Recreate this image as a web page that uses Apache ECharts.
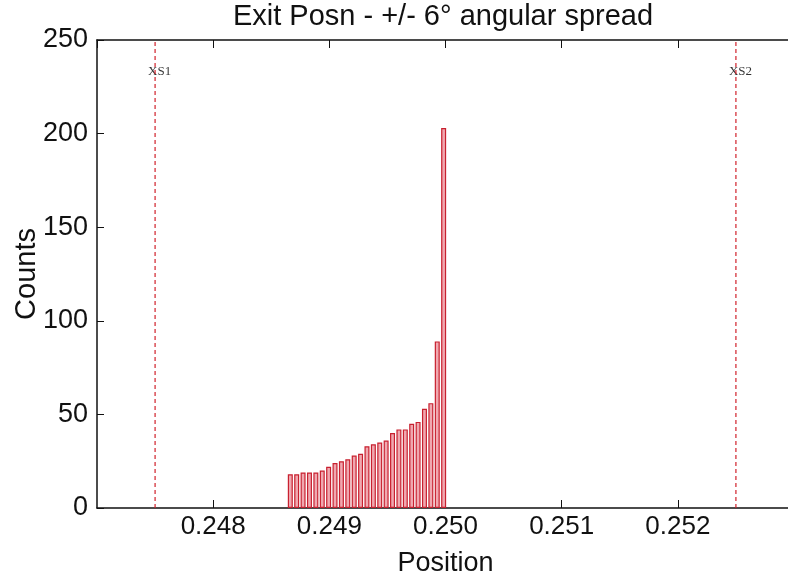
<!DOCTYPE html>
<html>
<head>
<meta charset="utf-8">
<script src="https://cdn.jsdelivr.net/npm/echarts@6/dist/echarts.min.js"></script>
<style>
  html, body { margin: 0; padding: 0; background: #fff; }
  #chartExitPosn { width: 788px; height: 578px; }
</style>
</head>
<body>
<div id="chartExitPosn"></div>
<script>
  // bin centres (position) and counts
  var binCentres = [0.248664, 0.248719, 0.248774, 0.248829, 0.248884, 0.248939, 0.248994, 0.249049,
                    0.249104, 0.249159, 0.249214, 0.249269, 0.249324, 0.249379, 0.249434, 0.249489,
                    0.249544, 0.249599, 0.249654, 0.249709, 0.249764, 0.249819, 0.249874, 0.249929, 0.249984];
  var binCounts = [18, 18, 19, 19, 19, 20, 22, 24, 25, 26, 28, 29, 33, 34, 35, 36,
                   40, 42, 42, 45, 46, 53, 56, 89, 203];
  // exit slit markers
  var xsNames = ['XS1', 'XS2'];
  var xsPositions = [0.2475, 0.2525];
  var xMin = 0.247, xMax = 0.253, xStep = 0.001;
  var yMin = 0, yMax = 250, yStep = 50;

  var fontMain = 'Liberation Sans, Arial, sans-serif';

  var histData = binCentres.map(function (x, i) { return [x, binCounts[i]]; });
  var xsLabels = xsPositions.map(function (x, i) { return { name: xsNames[i], value: [x, 233] }; });

  var series = [
    {
      name: 'Counts',
      type: 'bar',
      xAxisIndex: 0,
      barWidth: 5,
      data: histData,
      itemStyle: { color: '#f0a8b0', borderColor: '#c8202f', borderWidth: 1.2 }
    },
    {
      name: 'XS',
      type: 'scatter',
      xAxisIndex: 0,
      symbolSize: 0,
      data: xsLabels,
      label: {
        show: true,
        position: 'inside',
        align: 'left',
        offset: [-7, 0],
        formatter: '{b}',
        fontFamily: 'Liberation Serif, DejaVu Serif, serif',
        fontSize: 13,
        color: '#000'
      }
    }
  ];
  // dashed vertical line for each exit slit
  xsPositions.forEach(function (x, i) {
    series.push({
      name: xsNames[i] + ' line',
      type: 'line',
      xAxisIndex: 0,
      symbol: 'none',
      silent: true,
      lineStyle: { color: '#d0202a', width: 1.2, type: [4, 3] },
      data: [[x, yMin], [x, yMax]]
    });
  });

  var option = {
    animation: false,
    backgroundColor: '#fff',
    title: {
      text: 'Exit Posn - +/- 6\u00b0 angular spread',
      left: 438,
      top: -3,
      textAlign: 'center',
      textStyle: { fontFamily: fontMain, fontSize: 29, fontWeight: 'normal', color: '#111' }
    },
    grid: { left: 97, right: -6, top: 40, bottom: 70, outerBoundsMode: 'none' },
    xAxis: [
      {
        type: 'value',
        min: xMin, max: xMax, interval: xStep,
        name: 'Position',
        nameLocation: 'middle',
        nameGap: 42,
        nameMoveOverlap: false,
        nameTextStyle: { fontFamily: fontMain, fontSize: 27, color: '#111' },
        axisLine: { lineStyle: { color: '#111', width: 1.5 } },
        axisTick: { inside: true, length: 8, lineStyle: { color: '#111' } },
        axisLabel: {
          fontFamily: fontMain, fontSize: 26, color: '#111', margin: 6,
          showMinLabel: false, showMaxLabel: false,
          formatter: function (v) { return v.toFixed(3); }
        },
        splitLine: { show: false }
      },
      {
        type: 'value',
        position: 'top',
        min: xMin, max: xMax, interval: xStep,
        axisLine: { lineStyle: { color: '#111', width: 1.5 } },
        axisTick: { inside: true, length: 8, lineStyle: { color: '#111' } },
        axisLabel: { show: false },
        splitLine: { show: false }
      }
    ],
    yAxis: {
      type: 'value',
      min: yMin, max: yMax, interval: yStep,
      name: 'Counts',
      nameLocation: 'middle',
      nameGap: 56,
      nameRotate: 90,
      nameMoveOverlap: false,
      nameTextStyle: { fontFamily: fontMain, fontSize: 29, color: '#111' },
      axisLine: { show: true, lineStyle: { color: '#111', width: 1.5 } },
      axisTick: { show: true, inside: true, length: 7, lineStyle: { color: '#111' } },
      axisLabel: { fontFamily: fontMain, fontSize: 27, color: '#111', margin: 9 },
      splitLine: { show: false }
    },
    series: series
  };

  var myChart = echarts.init(document.getElementById('chartExitPosn'));
  option && myChart.setOption(option, true);
</script>
</body>
</html>
